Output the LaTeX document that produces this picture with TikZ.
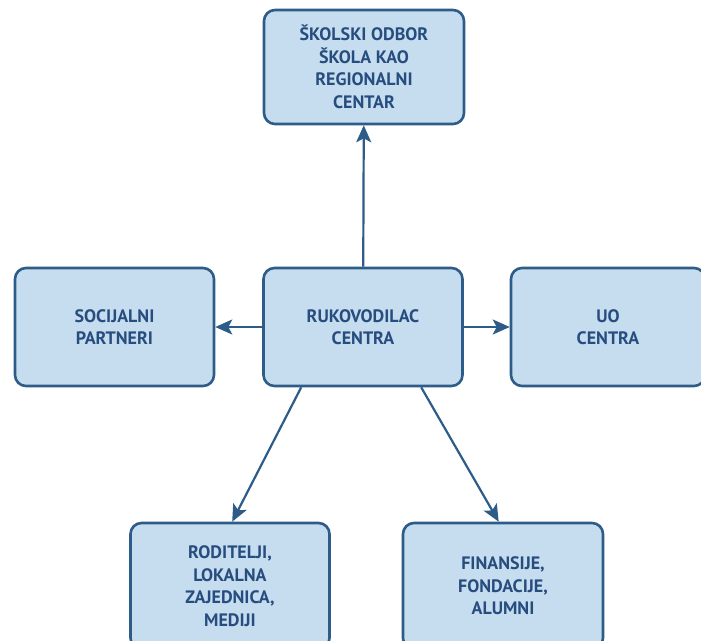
\documentclass[tikz,border=0pt]{standalone}
\usepackage{fontspec}
\setmainfont{PT Sans}
\usetikzlibrary{arrows.meta}
\definecolor{boxfill}{HTML}{C6DDF0}
\definecolor{boxline}{HTML}{2E5C88}
\definecolor{boxtext}{HTML}{274D7E}
\begin{document}
\begin{tikzpicture}[x=1pt,y=-1pt,
  orgbox/.style={draw=boxline, line width=2.6pt, fill=boxfill, rounded corners=11pt,
    text=boxtext, font=\bfseries\fontsize{18}{22.5}\selectfont, align=center,
    inner sep=0pt, minimum height=116pt},
  link/.style={draw=boxline, line width=2.2pt, -{Stealth[length=17pt,width=15pt,inset=4pt]}}]
\useasboundingbox (0,0) rectangle (701,640);
\clip (0,0) rectangle (701,640);
\fill[white] (0,0) rectangle (701,640);
\node[orgbox, minimum width=200pt, minimum height=114pt] (top) at (364,67) {ŠKOLSKI ODBOR\\ŠKOLA KAO\\REGIONALNI\\CENTAR};
\node[orgbox, minimum width=199pt, minimum height=118pt] (center) at (363,327) {RUKOVODILAC\\CENTRA};
\node[orgbox, minimum width=199pt, minimum height=118pt] (left) at (114.5,327) {SOCIJALNI\\PARTNERI};
\node[orgbox, minimum width=194pt, minimum height=118pt] (right) at (608,327) {UO\\CENTRA};
\node[orgbox, minimum width=199pt, minimum height=126pt] (bl) at (230,586) {RODITELJI,\\LOKALNA\\ZAJEDNICA,\\MEDIJI};
\node[orgbox, minimum width=200pt, minimum height=126pt] (br) at (503,586) {FINANSIJE,\\FONDACIJE,\\ALUMNI};
\draw[link] (center) -- (top);
\draw[link] (center) -- (left);
\draw[link] (center) -- (right);
\draw[link] ([xshift=39pt]center.south west) -- ([xshift=103pt]bl.north west);
\draw[link] ([xshift=159pt]center.south west) -- ([xshift=97pt]br.north west);
\end{tikzpicture}
\end{document}
